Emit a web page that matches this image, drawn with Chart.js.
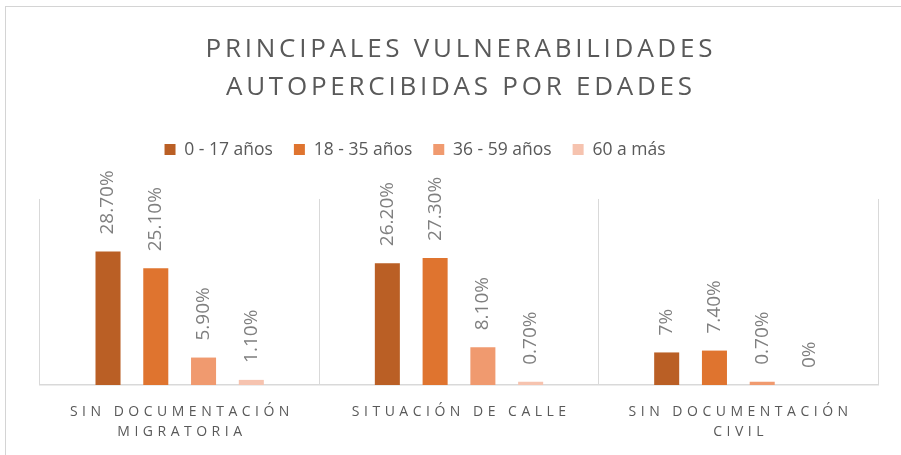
<!DOCTYPE html>
<html><head><meta charset="utf-8">
<script src="https://cdn.jsdelivr.net/npm/chart.js@4.4.1/dist/chart.umd.min.js"></script>
<style>
html,body{margin:0;padding:0;background:#fff;overflow:hidden;}
#wrap{position:relative;width:901px;height:455px;overflow:hidden;}
#frame{position:absolute;left:5px;top:6px;width:1000px;height:1000px;border:1px solid #d4d4d4;box-sizing:border-box;}
canvas{position:absolute;left:0;top:0;}
</style></head><body>
<div id="wrap"><div id="frame"></div><canvas id="c" width="901" height="455"></canvas></div>
<script>
// ---- data ----
const categories = [['SIN DOCUMENTACIÓN', 'MIGRATORIA'], 'SITUACIÓN DE CALLE', ['SIN DOCUMENTACIÓN', 'CIVIL']];
const seriesNames = ['0 - 17 años', '18 - 35 años', '36 - 59 años', '60 a más'];
const age0to17 = [28.7, 26.2, 7];
const age18to35 = [25.1, 27.3, 7.4];
const age36to59 = [5.9, 8.1, 0.7];
const age60plus = [1.1, 0.7, 0];
const titleLines = ['PRINCIPALES VULNERABILIDADES', 'AUTOPERCIBIDAS POR EDADES'];
const yMin = 0, yMax = 40;

// ---- styles ----
const seriesColors = ['#BA5F25', '#DF742F', '#F09A6F', '#F6C3AF'];
const FONT = '"Open Sans", "Liberation Sans", sans-serif';
const TITLE_SPACING = 3.75;
const XLABEL_SPACING = 4.5;
const LEGEND_SHIFT = 44;
const LABEL_GAP = 17;
const XTICK_PAD = 17.5;
const XTICK_LINE = 20;

function fmt(v) { return (Number.isInteger(v) ? String(v) : v.toFixed(2)) + '%'; }

const spacingPlugin = {
  id: 'spacing',
  beforeDraw(chart) {
    const ctx = chart.ctx;
    const tb = chart.titleBlock;
    if (tb && !tb._patched) {
      const orig = tb.draw;
      tb.draw = function (...a) {
        ctx.save();
        ctx.letterSpacing = TITLE_SPACING + 'px';
        ctx.translate(TITLE_SPACING / 2, 0);
        orig.apply(this, a);
        ctx.restore();
      };
      tb._patched = true;
    }
    const xs = chart.scales.x;
    if (xs && !xs._patched) {
      const origL = xs.drawLabels;
      xs.drawLabels = function (...a) {
        ctx.save();
        ctx.letterSpacing = XLABEL_SPACING + 'px';
        ctx.translate(XLABEL_SPACING / 2, 0);
        origL.apply(this, a);
        ctx.restore();
      };
      xs._patched = true;
    }
  }
};

const legendSpace = {
  id: 'legendSpace',
  beforeInit(chart) {
    const lg = chart.legend;
    const fit = lg.fit;
    lg.fit = function () { fit.call(this); this.height += 30.65; };
  },
  afterLayout(chart) {
    chart.legend.left -= LEGEND_SHIFT;
    chart.legend.right -= LEGEND_SHIFT;
  }
};

const valueLabels = {
  id: 'valueLabels',
  afterDatasetsDraw(chart) {
    const ctx = chart.ctx;
    chart.data.datasets.forEach((ds, di) => {
      const meta = chart.getDatasetMeta(di);
      meta.data.forEach((bar, i) => {
        ctx.save();
        ctx.translate(bar.x, bar.y - LABEL_GAP);
        ctx.rotate(-Math.PI / 2);
        ctx.font = '19px ' + FONT;
        ctx.fillStyle = '#7f7f7f';
        ctx.textAlign = 'left';
        ctx.textBaseline = 'middle';
        ctx.fillText(fmt(ds.data[i]), 0, 0);
        ctx.restore();
      });
    });
  }
};

const seriesData = [age0to17, age18to35, age36to59, age60plus];

new Chart(document.getElementById('c'), {
  type: 'bar',
  data: {
    labels: categories,
    datasets: seriesNames.map((n, i) => ({
      label: n,
      data: seriesData[i],
      backgroundColor: seriesColors[i],
      borderWidth: 0,
      categoryPercentage: 0.684,
      barPercentage: 0.524
    }))
  },
  options: {
    responsive: false,
    animation: false,
    devicePixelRatio: 1,
    layout: { padding: { left: 40, right: 23, top: 0, bottom: 12.5 } },
    plugins: {
      tooltip: { enabled: false },
      title: {
        display: true,
        text: titleLines,
        color: '#595959',
        font: { family: FONT, size: 26, weight: 'normal', lineHeight: 1.48 },
        padding: { top: 30, bottom: 12.85 }
      },
      legend: {
        display: true,
        position: 'top',
        labels: {
          boxWidth: 11,
          boxHeight: 11,
          padding: 21,
          color: '#595959',
          font: { family: FONT, size: 17.5 }
        }
      }
    },
    scales: {
      x: {
        grid: { offset: true, color: '#d9d9d9', lineWidth: 1, drawTicks: false },
        border: { color: '#d9d9d9', width: 1.5 },
        ticks: {
          color: '#595959',
          padding: XTICK_PAD,
          font: { family: FONT, size: 14, lineHeight: XTICK_LINE / 14 }
        },
        afterFit(scale) { scale.height = XTICK_PAD + 2 * XTICK_LINE; }
      },
      y: { display: false, min: yMin, max: yMax }
    }
  },
  plugins: [spacingPlugin, legendSpace, valueLabels]
});
</script>
</body></html>
